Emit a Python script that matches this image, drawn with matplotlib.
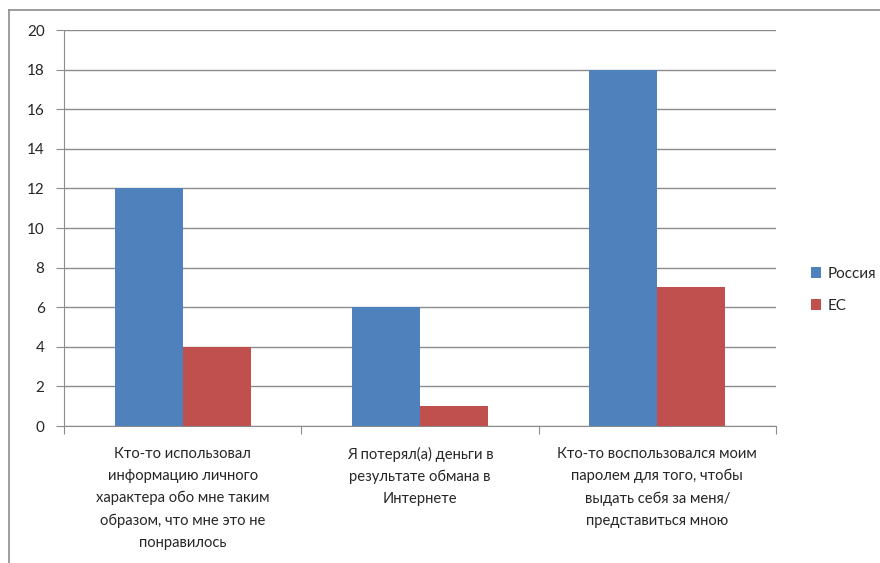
import numpy as np
import matplotlib.pyplot as plt
from matplotlib.lines import Line2D

categories = ['Кто-то использовал\nинформацию личного\nхарактера обо мне таким\nобразом, что мне это не\nпонравилось',
              'Я потерял(а) деньги в\nрезультате обмана в\nИнтернете',
              'Кто-то воспользовался моим\nпаролем для того, чтобы\nвыдать себя за меня/\nпредставиться мною']
russia = [12, 6, 18]
eu = [4, 1, 7]
series_names = ['Россия', 'ЕС']

plt.rcParams['font.family'] = ['Lato', 'DejaVu Sans']

fig = plt.figure(figsize=(8.8, 5.63), dpi=100)
ax = fig.add_axes([64/880, 1-426/563, 712/880, 396/563])

x = np.arange(len(categories))
w = 0.286
ax.bar(x - w/2, russia, w, color='#4F81BD', label=series_names[0], zorder=3)
ax.bar(x + w/2, eu, w, color='#C0504D', label=series_names[1], zorder=3)

ax.set_xlim(-0.5, len(categories) - 0.5)
ax.set_ylim(0, 20)
ax.set_yticks(np.arange(0, 21, 2))
ax.yaxis.grid(True, color='#8c8c8c', linewidth=1)
ax.set_axisbelow(True)

for s in ['top', 'right']:
    ax.spines[s].set_visible(False)
ax.spines['left'].set_color('#8c8c8c')
ax.spines['bottom'].set_color('#8c8c8c')

ax.set_xticks(np.arange(-0.5, len(categories)), minor=False)
ax.set_xticklabels([])
ax.set_xticks(x, minor=True)
ax.set_xticklabels(categories, minor=True, fontsize=10.6, linespacing=1.72, color='#262626')
ax.tick_params(axis='x', which='major', direction='out', length=6, color='#8c8c8c')
ax.tick_params(axis='x', which='minor', length=0, pad=15)
ax.tick_params(axis='y', direction='out', length=6, color='#8c8c8c', labelsize=11,
               labelcolor='#262626', pad=8)

leg = fig.legend(loc='center left', bbox_to_anchor=(797/880, 1-290/563), frameon=False,
                 fontsize=11, handlelength=0.7, handleheight=0.7, labelspacing=1.2,
                 handletextpad=0.4)
for t in leg.get_texts():
    t.set_color('#262626')

# chart frame
fig.add_artist(Line2D([9/880, 9/880], [0, 1-10/563], color='#8c8c8c', linewidth=1.2, transform=fig.transFigure))
fig.add_artist(Line2D([9/880, 1], [1-10/563, 1-10/563], color='#8c8c8c', linewidth=1.2, transform=fig.transFigure))

fig.savefig('out.png', dpi=100)
